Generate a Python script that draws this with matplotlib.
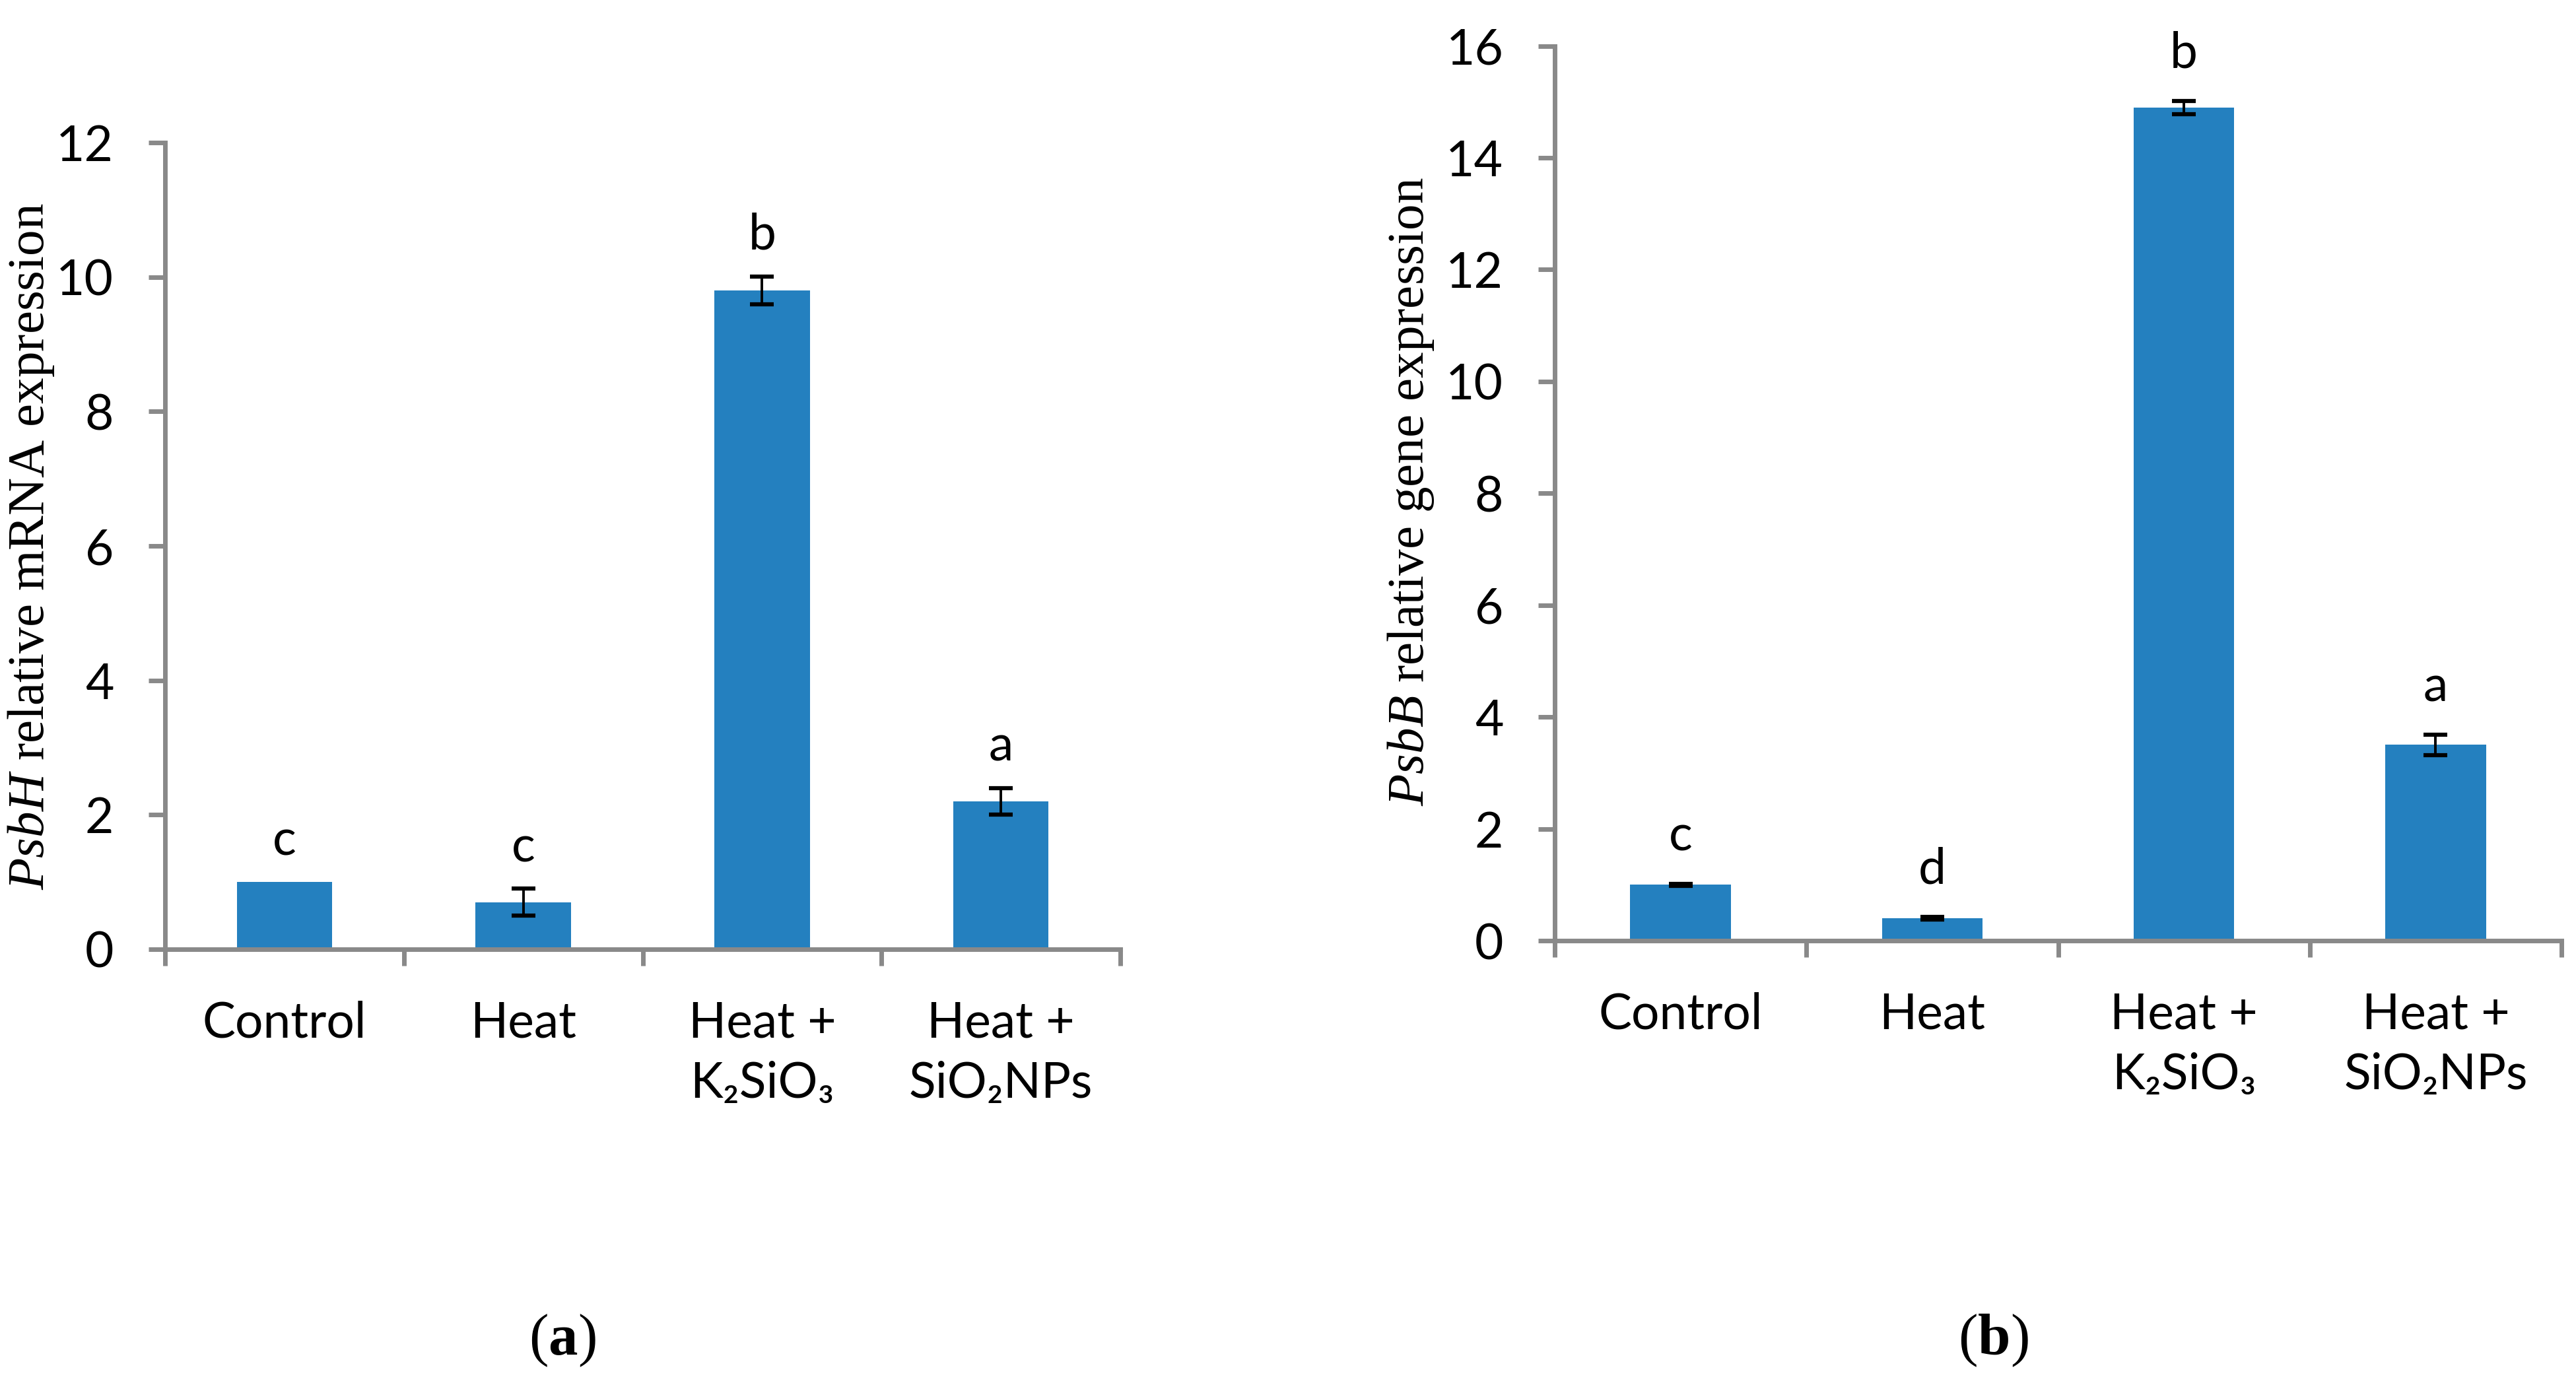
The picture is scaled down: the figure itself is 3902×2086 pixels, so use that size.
import numpy as np
import matplotlib
matplotlib.use("Agg")
import matplotlib.pyplot as plt

# Datos
grupos = ["Control", "Heat", "Heat +\nK₂SiO₃", "Heat +\nSiO₂NPs"]

psbh_valores = [1.0, 0.7, 9.8, 2.2]
psbh_error = [0.0, 0.2, 0.21, 0.2]
psbh_letras = ["c", "c", "b", "a"]
psbh_yticks = [0, 2, 4, 6, 8, 10, 12]

psbb_valores = [1.0, 0.4, 14.9, 3.5]
psbb_error = [0.02, 0.02, 0.12, 0.18]
psbb_letras = ["c", "d", "b", "a"]
psbb_yticks = [0, 2, 4, 6, 8, 10, 12, 14, 16]

AZUL = "#2480BF"
GRIS = "#898989"
SANS = ["Lato", "DejaVu Sans"]
SERIF = "Liberation Serif"
TAM = 54

plt.rcParams["mathtext.fontset"] = "custom"
plt.rcParams["mathtext.rm"] = "Liberation Serif"
plt.rcParams["mathtext.it"] = "Liberation Serif:italic"
plt.rcParams["mathtext.bf"] = "Liberation Serif:bold"

W, H = 3902, 2086
fig = plt.figure(figsize=(W / 100, H / 100), dpi=100)


def px_a_fig(x0, y_top, x1, y_bottom):
    # convierte un rectángulo en píxeles (origen arriba) a coordenadas de figura
    return [x0 / W, 1 - y_bottom / H, (x1 - x0) / W, (y_bottom - y_top) / H]


def dibujar_panel(ax, valores, errores, letras, yticks, desplazamiento):
    x = np.arange(len(valores))
    valores = np.array(valores)
    errores = np.array(errores)
    ax.bar(x, valores, width=0.4, color=AZUL, zorder=2)
    con_error = errores > 0
    ax.errorbar(x[con_error], valores[con_error], yerr=errores[con_error], fmt="none",
                ecolor="black", elinewidth=2.8, capsize=13, capthick=4.5, zorder=3)
    for xi, v, e, letra in zip(x, valores, errores, letras):
        ax.annotate(letra, (xi, v + e), xytext=(0, desplazamiento), textcoords="offset points",
                    ha="center", va="bottom", fontsize=TAM, family=SANS, annotation_clip=False)

    ax.set_xlim(-0.5, len(valores) - 0.5)
    ax.set_ylim(0, yticks[-1])
    ax.set_yticks(yticks)
    ax.set_yticklabels([str(t) for t in yticks], family=SANS, fontsize=TAM)

    ax.set_xticks(np.arange(len(valores) + 1) - 0.5)
    ax.set_xticklabels([])
    ax.set_xticks(x, minor=True)
    ax.set_xticklabels(grupos, minor=True, family=SANS, fontsize=TAM, linespacing=1.4)
    ax.tick_params(axis="x", which="minor", length=0, pad=56)
    ax.tick_params(axis="x", which="major", length=18, width=5, color=GRIS, direction="out")
    ax.tick_params(axis="y", length=18, width=5, color=GRIS, direction="out", pad=38)

    for lado in ["top", "right"]:
        ax.spines[lado].set_visible(False)
    for lado in ["left", "bottom"]:
        ax.spines[lado].set_color(GRIS)
        ax.spines[lado].set_linewidth(5)


ax_a = fig.add_axes(px_a_fig(250, 216, 1697, 1438))
dibujar_panel(ax_a, psbh_valores, psbh_error, psbh_letras, psbh_yticks, 20)

ax_b = fig.add_axes(px_a_fig(2355, 69.5, 3880, 1425))
dibujar_panel(ax_b, psbb_valores, psbb_error, psbb_letras, psbb_yticks, 27)

# títulos de eje y (con la parte del gen en cursiva)
fig.text(66 / W, 1 - 828 / H, r"$\mathit{PsbH}$ relative mRNA expression", family=SERIF,
         fontsize=57, rotation=90, rotation_mode="anchor", ha="center", va="baseline")
fig.text(2156 / W, 1 - 745 / H, r"$\mathit{PsbB}$ relative gene expression", family=SERIF,
         fontsize=57, rotation=90, rotation_mode="anchor", ha="center", va="baseline")

# rótulos de los paneles
fig.text(852 / W, 1 - 2052 / H, r"($\mathbf{a}$)", family=SERIF, fontsize=64,
         ha="center", va="baseline")
fig.text(3019 / W, 1 - 2052 / H, r"($\mathbf{b}$)", family=SERIF, fontsize=64,
         ha="center", va="baseline")

fig.savefig("out.png", dpi=100, facecolor="white")
